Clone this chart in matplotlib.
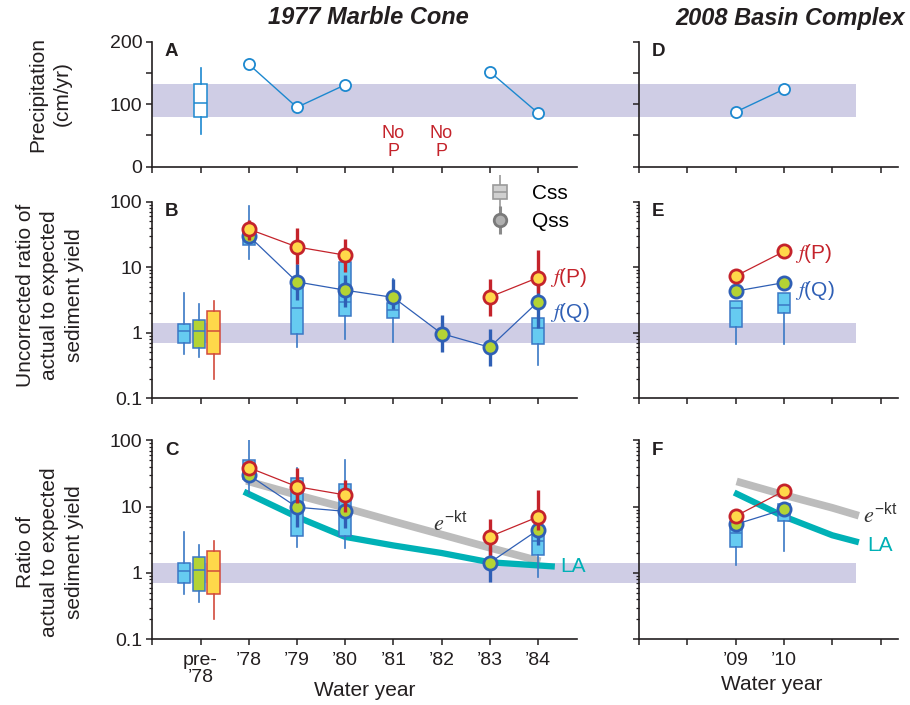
import numpy as np
import matplotlib
matplotlib.use("Agg")
import matplotlib.pyplot as plt
from matplotlib.lines import Line2D
from matplotlib.legend_handler import HandlerTuple
from matplotlib.ticker import LogLocator, NullFormatter, FixedLocator

plt.rcParams['font.family'] = ['Liberation Sans', 'DejaVu Sans']
plt.rcParams['mathtext.fontset'] = 'stix'

nan = np.nan
# ---------------- data ----------------
left_ticks = [0, 1, 2, 3, 4, 5, 6, 7, 8]
left_ticklabels = ['', 'pre-\n\u201978', '\u201978', '\u201979', '\u201980', '\u201981', '\u201982', '\u201983', '\u201984']
right_ticks = [0, 1, 2, 3, 4, 5]
right_ticklabels = ['', '', '\u201909', '\u201910', '', '']

years_x = [2, 3, 4, 5, 6, 7, 8]
pre_x = [0.65, 0.96, 1.27]

# Panel A precipitation (cm/yr)
precip_A = [164, 95, 131, nan, nan, 152, 86]
precip_pre_box = [52, 79, 102, 132, 158]   # whislo, q1, med, q3, whishi
band_A = [80, 132]
noP_x = [5, 6]

# Panel D precipitation
d_x = [2, 3]
precip_D = [87.5, 124]

band_ratio = [0.7, 1.4]

# Panel B (uncorrected)
B_qss = [30, 5.95, 4.45, 3.45, 0.97, 0.60, 2.95]
B_qss_lo = [26, 3.1, 2.5, 2.3, 0.51, 0.31, 1.16]
B_qss_hi = [35, 11.3, 7.5, 6.5, 1.85, 1.12, 5.6]
B_fp = [38, 20.3, 15.2, nan, nan, 3.5, 6.9]
B_fp_lo = [25.7, 11.3, 8.5, nan, nan, 1.8, 4.0]
B_fp_hi = [53, 38.8, 26.4, nan, nan, 6.5, 18.5]
B_css_x = [2, 3, 4, 5, 8]
B_css = [[13.5, 21.6, 30, 40, 85],
         [0.61, 0.94, 2.42, 5.0, 11],
         [0.79, 1.78, 2.95, 11.8, 12],
         [0.72, 1.7, 2.2, 2.79, 6.5],
         [0.32, 0.68, 1.16, 1.68, 5.6]]
B_pre = [[0.475, 0.69, 1.05, 1.38, 4.1],
         [0.43, 0.59, 1.05, 1.55, 2.78],
         [0.198, 0.47, 1.05, 2.15, 3.06]]

# Panel C (corrected)
C_qss = [30, 9.8, 8.5, nan, nan, 1.43, 4.45]
C_qss_lo = [27, 5.0, 4.7, nan, nan, 0.74, 2.6]
C_qss_hi = [33, 16.8, 14, nan, nan, 2.5, 6.5]
C_fp = [38.8, 20, 15, nan, nan, 3.53, 7.0]
C_fp_lo = [32, 11.3, 8.4, nan, nan, 1.87, 4.5]
C_fp_hi = [46, 38, 25.3, nan, nan, 6.5, 17.9]
C_css_x = [2, 3, 4, 8]
C_css = [[15.9, 25.9, 35, 50.6, 100],
         [2.44, 3.6, 9.8, 26.8, 38],
         [2.36, 3.6, 8.5, 22, 50.6],
         [0.88, 1.87, 3.0, 3.96, 11.5]]
C_pre = [[0.49, 0.71, 1.07, 1.4, 4.1],
         [0.365, 0.54, 1.11, 1.76, 2.64],
         [0.205, 0.48, 1.07, 2.17, 3.07]]
C_exp_x = [1.95, 3, 4, 5, 6, 7, 8.05]
C_exp = [24.5, 15, 9.6, 6.0, 3.8, 2.4, 1.5]
C_la_x = [1.9, 3, 4, 5, 6, 7, 8, 8.35]
C_la = [16.8, 7.0, 3.5, 2.6, 2.0, 1.45, 1.3, 1.25]

# Panel E
E_x = [2, 3]
E_fp = [7.3, 17.3]
E_fp_lo = [6.3, 15.5]
E_fp_hi = [8.5, 19.5]
E_qss = [4.3, 5.8]
E_qss_lo = [3.9, 5.2]
E_qss_hi = [4.7, 6.5]
E_css = [[0.68, 1.21, 2.39, 3.0, 3.0],
         [0.67, 2.03, 2.63, 3.96, 3.96]]

# Panel F
F_fp = [7.2, 17.2]
F_fp_lo = [6.4, 15.5]
F_fp_hi = [9.2, 19.5]
F_qss = [5.4, 9.1]
F_qss_lo = [4.5, 8.0]
F_qss_hi = [6.2, 10.2]
F_css = [[1.32, 2.5, 4.0, 5.9, 5.9],
         [2.14, 6.1, 9.1, 11.0, 11.0]]
F_exp_x = [2.02, 3, 4, 4.55]
F_exp = [24, 15, 9.6, 7.3]
F_la_x = [1.97, 3, 4, 4.55]
F_la = [16.3, 7.1, 3.7, 2.9]

# ---------------- styles ----------------
BAND = '#cfcde5'
BOXFACE = '#66cbf1'
BOXEDGE = '#3a78c5'
QEDGE = '#2f5fb5'
QFACE = '#b4d334'
PEDGE = '#c4232b'
PFACE = '#ffd84a'
PRECIP = '#1c88cf'
GRAY = '#bcbcbc'
TEAL = '#00b1b6'
AX = '#231f20'

fig = plt.figure(figsize=(9.1, 7.05), dpi=100)
W, H = 910.0, 705.0
L, WL = 152.3 / W, 424.7 / W
R, WR = 639 / W, 259 / W

def rect(x0, w, top, bot):
    return [x0, 1 - bot / H, w, (bot - top) / H]

axA = fig.add_axes(rect(L, WL, 41.7, 166.7))
axB = fig.add_axes(rect(L, WL, 201.5, 398.3))
axC = fig.add_axes(rect(L, WL, 440.3, 639.3))
axD = fig.add_axes(rect(R, WR, 41.7, 166.7))
axE = fig.add_axes(rect(R, WR, 201.5, 398.3))
axF = fig.add_axes(rect(R, WR, 440.3, 639.3))

def style(ax, left):
    for s in ['top', 'right']:
        ax.spines[s].set_visible(False)
    for s in ['left', 'bottom']:
        ax.spines[s].set_linewidth(1.2)
        ax.spines[s].set_color(AX)
    ax.tick_params(which='major', direction='out', length=4, width=1.1, color=AX,
                   labelsize=14, labelcolor=AX, pad=3)
    ax.tick_params(which='minor', direction='out', length=2.5, width=0.9, color=AX)
    if left:
        ax.set_xlim(0, 8.81)
        ax.set_xticks(left_ticks)
    else:
        ax.set_xlim(0, 5.36)
        ax.set_xticks(right_ticks)
    ax.set_xticklabels([])

for ax, lft in [(axA, True), (axB, True), (axC, True), (axD, False), (axE, False), (axF, False)]:
    style(ax, lft)

# --- precipitation panels ---
for ax, lft in [(axA, True), (axD, False)]:
    ax.set_ylim(0, 200)
    ax.set_yticks([0, 100, 200])
    ax.yaxis.set_minor_locator(FixedLocator([50, 150]))
    ax.tick_params(which='minor', length=4, width=1.1)
    if lft:
        ax.set_yticklabels(['0', '100', '200'])
        ax.fill_between([0, 10.1], band_A[0], band_A[1], color=BAND, lw=0, zorder=0.5, clip_on=False)
    else:
        ax.set_yticklabels([])
        ax.fill_between([-0.4, 4.5], band_A[0], band_A[1], color=BAND, lw=0, zorder=0.5, clip_on=False)

def draw_boxes(ax, pos, stats_list, face, edge, whisk, width=0.25, z=3):
    stats = [dict(whislo=s[0], q1=s[1], med=s[2], q3=s[3], whishi=s[4]) for s in stats_list]
    ax.bxp(stats, positions=pos, widths=width, showfliers=False, showcaps=False,
           patch_artist=True, manage_ticks=False, zorder=z,
           boxprops=dict(facecolor=face, edgecolor=edge, linewidth=1.1),
           medianprops=dict(color=edge, linewidth=1.1),
           whiskerprops=dict(color=whisk, linewidth=1.2))

draw_boxes(axA, [1.0], [precip_pre_box], 'white', PRECIP, PRECIP)
axA.plot(years_x, precip_A, '-o', color=PRECIP, lw=1.0, ms=8, mfc='white', mec=PRECIP, mew=1.3, zorder=4)
axD.plot(d_x, precip_D, '-o', color=PRECIP, lw=1.0, ms=8, mfc='white', mec=PRECIP, mew=1.3, zorder=4)
for xx in noP_x:
    axA.text(xx, 39, 'No\nP', ha='center', va='center', color=PEDGE, fontsize=13, linespacing=1.05)

# --- ratio panels ---
def ratio_axes(ax, left):
    ax.set_yscale('log')
    ax.set_ylim(0.1, 100)
    ax.set_yticks([0.1, 1, 10, 100])
    ax.yaxis.set_minor_locator(LogLocator(base=10, subs=np.arange(2, 10)))
    ax.yaxis.set_minor_formatter(NullFormatter())
    if left:
        ax.set_yticklabels(['0.1', '1', '10', '100'])
        ax.fill_between([0, 10.1], band_ratio[0], band_ratio[1], color=BAND, lw=0, zorder=0.5, clip_on=False)
    else:
        ax.set_yticklabels([])
        ax.fill_between([-0.4, 4.5], band_ratio[0], band_ratio[1], color=BAND, lw=0, zorder=0.5, clip_on=False)

for ax, lft in [(axB, True), (axC, True), (axE, False), (axF, False)]:
    ratio_axes(ax, lft)

def series(ax, x, y, lo, hi, face, edge, z):
    y = np.array(y, float); lo = np.array(lo, float); hi = np.array(hi, float)
    ax.plot(x, y, '-', color=edge, lw=0.9, zorder=z)
    ax.errorbar(x, y, yerr=[y - lo, hi - y], fmt='none', ecolor=edge, elinewidth=2.4, capsize=0, zorder=z + 0.1)
    ax.plot(x, y, 'o', ms=9.5, mfc=face, mec=edge, mew=2.0, ls='none', zorder=z + 0.2)

# Panel B
draw_boxes(axB, pre_x[:1], B_pre[:1], BOXFACE, BOXEDGE, BOXEDGE)
draw_boxes(axB, pre_x[1:2], B_pre[1:2], QFACE, BOXEDGE, BOXEDGE)
draw_boxes(axB, pre_x[2:], B_pre[2:], PFACE, '#d24a3c', '#d24a3c')
draw_boxes(axB, B_css_x, B_css, BOXFACE, BOXEDGE, BOXEDGE)
series(axB, years_x, B_qss, B_qss_lo, B_qss_hi, QFACE, QEDGE, 5)
series(axB, years_x, B_fp, B_fp_lo, B_fp_hi, PFACE, PEDGE, 6)
axB.text(8.25, 7.0, '$f$(P)', color=PEDGE, fontsize=15, ha='left', va='center')
axB.text(8.25, 2.05, '$f$(Q)', color=QEDGE, fontsize=15, ha='left', va='center')

css_h = (Line2D([], [], color='#9a9a9a', marker='|', ms=24, mew=1.2, ls='none'),
         Line2D([], [], marker='s', ms=10, mfc='#d0d0d0', mec='#9a9a9a', mew=1.2, ls='none'),
         Line2D([], [], marker='_', ms=10, mec='#9a9a9a', mew=1.2, ls='none'))
qss_h = (Line2D([], [], color='#8a8a8a', marker='|', ms=20, mew=2.2, ls='none'),
         Line2D([], [], marker='o', ms=9, mfc='#b0b0b0', mec='#7a7a7a', mew=2.0, ls='none'))
axB.legend([css_h, qss_h], ['Css', 'Qss'], handler_map={tuple: HandlerTuple(ndivide=1)},
           loc='upper left', bbox_to_anchor=(490 / W, 1 - 184 / H), bbox_transform=fig.transFigure,
           frameon=False, fontsize=15, handlelength=1.0, handletextpad=1.0, labelspacing=0.45,
           borderpad=0, borderaxespad=0)

# Panel C
axC.plot(C_exp_x, C_exp, color=GRAY, lw=5.5, solid_capstyle='butt', zorder=1.5)
axC.plot(C_la_x, C_la, color=TEAL, lw=4.5, solid_capstyle='butt', zorder=1.6)
draw_boxes(axC, pre_x[:1], C_pre[:1], BOXFACE, BOXEDGE, BOXEDGE)
draw_boxes(axC, pre_x[1:2], C_pre[1:2], QFACE, BOXEDGE, BOXEDGE)
draw_boxes(axC, pre_x[2:], C_pre[2:], PFACE, '#d24a3c', '#d24a3c')
draw_boxes(axC, C_css_x, C_css, BOXFACE, BOXEDGE, BOXEDGE)
series(axC, years_x, C_qss, C_qss_lo, C_qss_hi, QFACE, QEDGE, 5)
series(axC, years_x, C_fp, C_fp_lo, C_fp_hi, PFACE, PEDGE, 6)
axC.text(6.18, 5.7, r'$e^{\mathregular{-kt}}$', color='#333333', fontsize=16, ha='center', va='center')
axC.text(8.46, 1.27, 'LA', color=TEAL, fontsize=15, ha='left', va='center')

# Panel E
draw_boxes(axE, E_x, E_css, BOXFACE, BOXEDGE, BOXEDGE)
series(axE, E_x, E_qss, E_qss_lo, E_qss_hi, QFACE, QEDGE, 5)
series(axE, E_x, E_fp, E_fp_lo, E_fp_hi, PFACE, PEDGE, 6)
axE.text(3.23, 16.3, '$f$(P)', color=PEDGE, fontsize=15, ha='left', va='center')
axE.text(3.23, 4.4, '$f$(Q)', color=QEDGE, fontsize=15, ha='left', va='center')

# Panel F
axF.plot(F_exp_x, F_exp, color=GRAY, lw=5.5, solid_capstyle='butt', zorder=1.5)
axF.plot(F_la_x, F_la, color=TEAL, lw=4.5, solid_capstyle='butt', zorder=1.6)
draw_boxes(axF, E_x, F_css, BOXFACE, BOXEDGE, BOXEDGE)
series(axF, E_x, F_qss, F_qss_lo, F_qss_hi, QFACE, QEDGE, 5)
series(axF, E_x, F_fp, F_fp_lo, F_fp_hi, PFACE, PEDGE, 6)
axF.text(4.64, 7.5, r'$e^{\mathregular{-kt}}$', color='#333333', fontsize=16, ha='left', va='center')
axF.text(4.72, 2.64, 'LA', color=TEAL, fontsize=15, ha='left', va='center')

# x tick labels on bottom panels
axC.set_xticklabels(left_ticklabels, fontsize=14, linespacing=1.0)
axF.set_xticklabels(right_ticklabels, fontsize=14)
axC.tick_params(axis='x', pad=5)
axF.tick_params(axis='x', pad=5)
fig.text(364.6 / W, 1 - 690 / H, 'Water year', ha='center', va='center', fontsize=15, color=AX)
fig.text(772 / W, 1 - 685 / H, 'Water year', ha='center', va='center', fontsize=15, color=AX)

# panel letters
for ax, letter in [(axA, 'A'), (axB, 'B'), (axC, 'C'), (axD, 'D'), (axE, 'E'), (axF, 'F')]:
    ax.annotate(letter, xy=(0, 1), xycoords='axes fraction', xytext=(9, -1), textcoords='offset points',
                ha='left', va='top', fontsize=13.5, fontweight='bold', color=AX)

# y labels
fig.text(50 / W, 1 - 94 / H, 'Precipitation\n(cm/yr)', rotation=90, ha='center', va='center',
         fontsize=15, color=AX, linespacing=1.35, multialignment='center')
fig.text(50 / W, 1 - 295 / H, 'Uncorrected ratio of\nactual to expected\nsediment yield', rotation=90,
         ha='center', va='center', fontsize=15, color=AX, linespacing=1.35, multialignment='center')
fig.text(50 / W, 1 - 552 / H, 'Ratio of\nactual to expected\nsediment yield', rotation=90,
         ha='center', va='center', fontsize=15, color=AX, linespacing=1.35, multialignment='center')

# titles
fig.text(268 / W, 1 - 18 / H, '1977 Marble Cone', ha='left', va='center', fontsize=17,
         fontweight='bold', fontstyle='italic', color=AX)
fig.text(675 / W, 1 - 18 / H, '2008 Basin Complex', ha='left', va='center', fontsize=17,
         fontweight='bold', fontstyle='italic', color=AX)

fig.savefig('out.png', dpi=100)
